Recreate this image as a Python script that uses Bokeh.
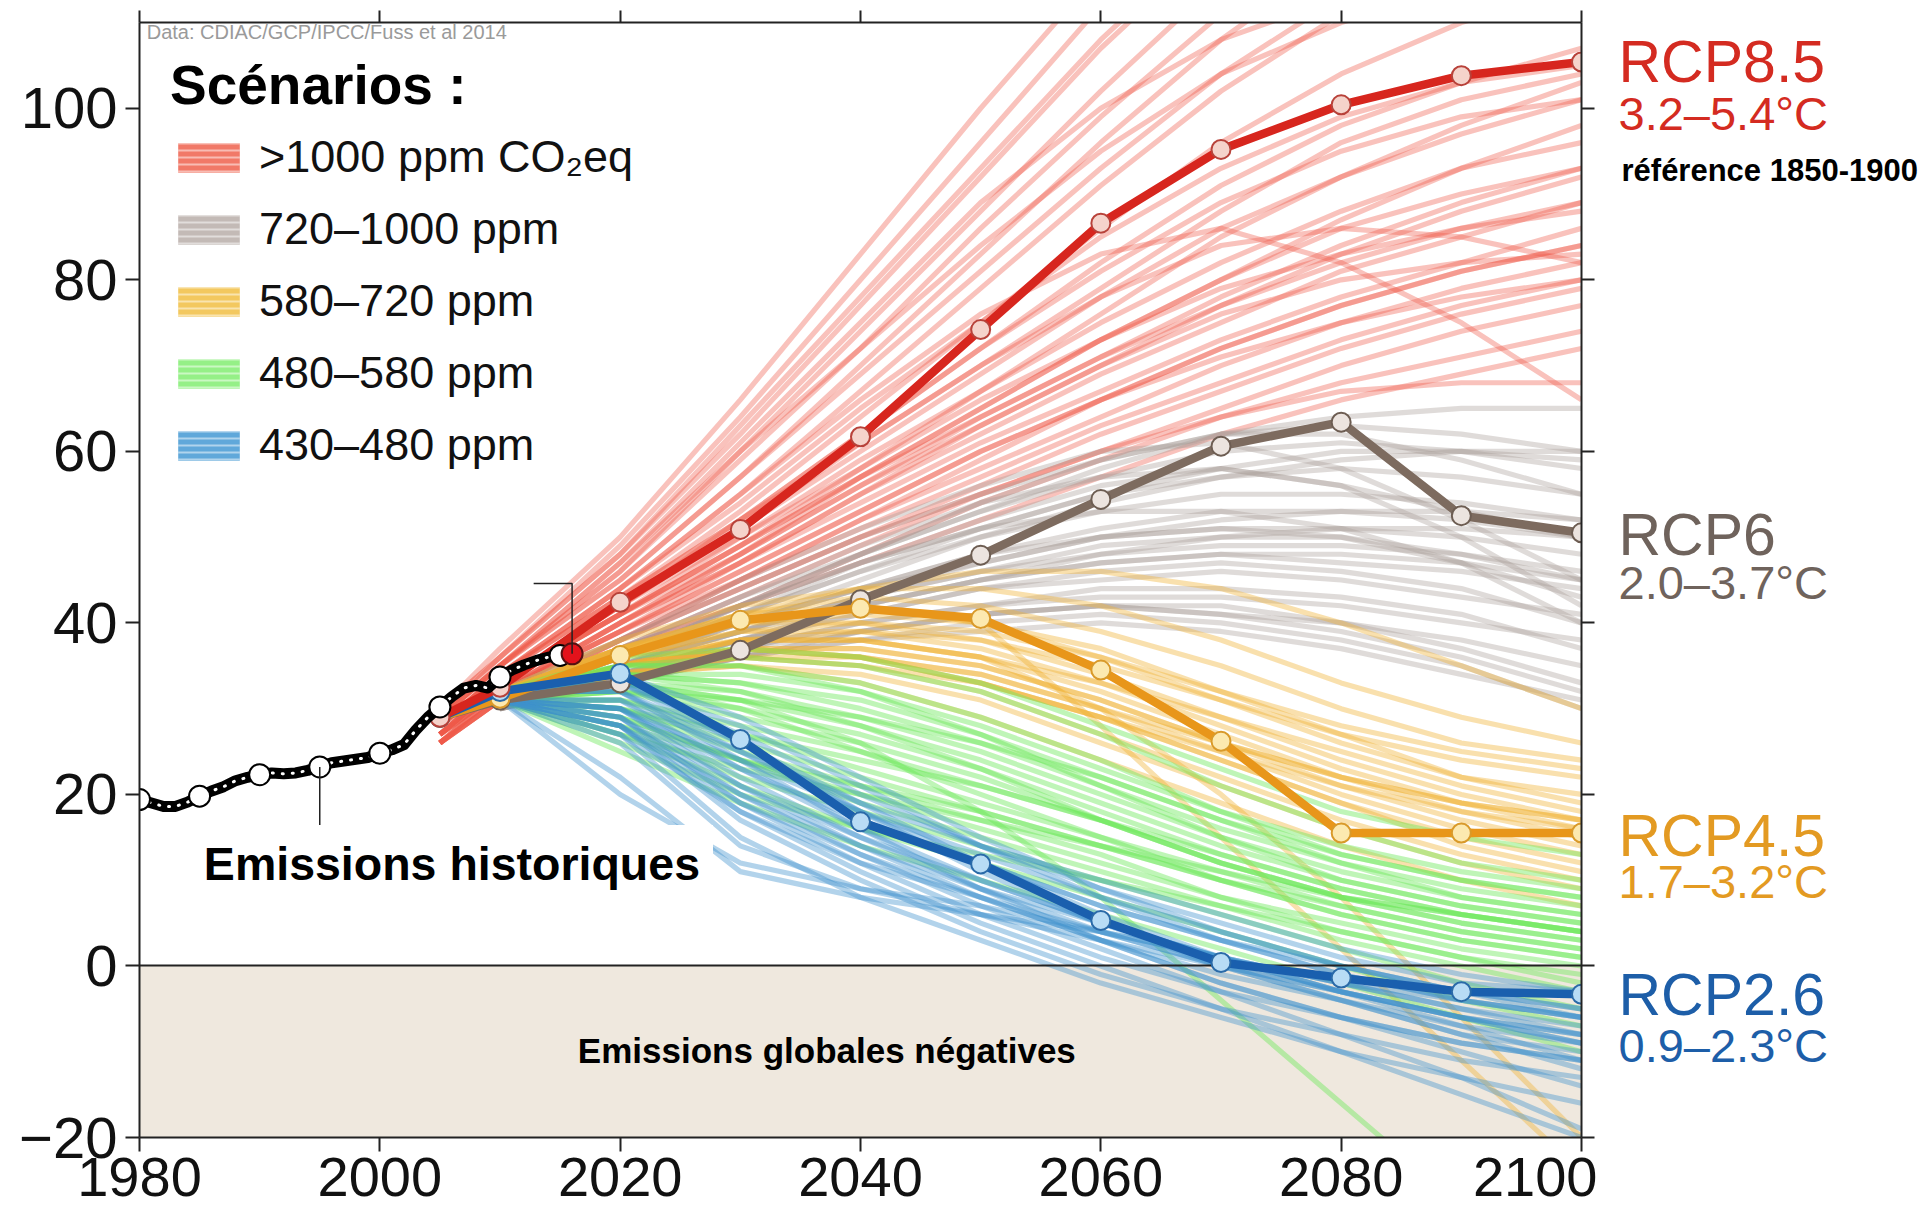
from bokeh.plotting import figure
from bokeh.layouts import row
from bokeh.models import (FixedTicker, LinearAxis, Label, Legend, LegendItem,
                          BoxAnnotation, CustomJSTickFormatter, Range1d)
from bokeh.embed import file_html
from bokeh.resources import INLINE

FONT = "Liberation Sans"
NAN = float("nan")

# ---------------- data ----------------
x_ticks = [1980, 2000, 2020, 2040, 2060, 2080, 2100]
y_ticks = [-20, 0, 20, 40, 60, 80, 100]
y_tick_labels = {-20: "\u221220", 0: "0", 20: "20", 40: "40", 60: "60", 80: "80", 100: "100"}

hist_years = list(range(1980, 2017))
hist_values = [19.4, 19.0, 18.6, 18.6, 19.1, 19.8, 20.4, 20.9, 21.6, 22.0,
               22.3, 22.5, 22.4, 22.5, 22.8, 23.2, 23.7, 23.9, 24.1, 24.3,
               24.8, 25.2, 25.8, 27.5, 29.0, 30.2, 31.4, 32.4, 32.7, 32.4,
               33.7, 34.5, 35.1, 35.6, 36.0, 36.2, 36.4]
hist_marker_years = [1980, 1985, 1990, 1995, 2000, 2005, 2010, 2015]
latest_year = 2016

rcp_years = [2005, 2010, 2020, 2030, 2040, 2050, 2060, 2070, 2080, 2090, 2100]
rcp85 = [29.0, 32.5, 42.4, 50.9, 61.7, 74.2, 86.6, 95.2, 100.4, 103.8, 105.4]
rcp6 = [29.0, 31.0, 33.0, 36.8, 42.7, 47.9, 54.4, 60.6, 63.4, 52.5, 50.5]
rcp45 = [29.0, 31.2, 36.2, 40.3, 41.7, 40.5, 34.5, 26.2, 15.5, 15.5, 15.5]
rcp26 = [29.0, 32.0, 34.1, 26.4, 16.8, 11.9, 5.3, 0.4, -1.4, -3.0, -3.3]

rcp_names = ["RCP8.5", "RCP6", "RCP4.5", "RCP2.6"]
rcp_ranges = ["3.2\u20135.4\u00b0C", "2.0\u20133.7\u00b0C", "1.7\u20133.2\u00b0C", "0.9\u20132.3\u00b0C"]
rcp_name_y = [105.4, 50.3, 15.1, -3.4]
rcp_range_y = [99.4, 44.7, 9.9, -9.3]
reference_note = "r\u00e9f\u00e9rence 1850-1900"
reference_note_y = 92.8

red_fan_years = [2005, 2010, 2020, 2030, 2040, 2050, 2060, 2070, 2080, 2090, 2100]
red_fan = [
    [30, 36, 48, 62, 77, 92, 107, 120, 130, 138, 145],
    [29, 35, 46, 60, 74, 88, 102, 115, 125, 132, 138],
    [29, 35, 45, 57, 70, 83, 96, 108, 118, 125, 130],
    [28, 34, 44, 55, 67, 79, 91, 102, 111, 118, 123],
    [28, 34, 43, 53, 64, 75, 86, 96, 104, 110, 114],
    [28, 34, 43, 52, 62, 72, 82, 91, 98, 103, 107],
    [27, 33, 42, 51, 60, 69, 78, 86, 92, 97, 101],
    [28, 33, 42, 50, 59, 67, 75, 82, 88, 93, 96],
    [27, 33, 41, 49, 57, 65, 73, 80, 86, 90, 93],
    [27, 33, 41, 48, 56, 63, 70, 77, 83, 88, 92],
    [27, 32, 40, 47, 55, 62, 69, 75, 81, 85, 89],
    [26, 32, 40, 47, 54, 61, 67, 73, 78, 82, 86],
    [27, 32, 39, 46, 53, 60, 66, 72, 77, 81, 84],
    [26, 32, 39, 45, 52, 58, 64, 70, 75, 79, 82],
    [26, 31, 38, 45, 51, 57, 63, 68, 73, 77, 80],
    [26, 31, 38, 44, 50, 56, 62, 67, 72, 76, 79],
    [26, 31, 37, 43, 49, 55, 60, 65, 70, 74, 77],
    [27, 32, 39, 47, 55, 63, 70, 76, 80, 82, 83],
    [28, 33, 42, 51, 61, 70, 78, 84, 86, 85, 82],
    [28, 34, 44, 55, 66, 76, 83, 86, 82, 75, 66],
    [27, 33, 41, 50, 58, 66, 73, 79, 83, 86, 88],
    [27, 32, 40, 48, 56, 64, 71, 78, 84, 89, 93],
    [26, 31, 37, 42, 47, 52, 57, 62, 66, 69, 72],
    [26, 31, 38, 44, 50, 55, 60, 64, 67, 68, 68],
    [29, 35, 47, 61, 75, 89, 100, 108, 113, 116, 118],
    [30, 36, 49, 64, 80, 96, 112, 125, 135, 142, 147],
    [28, 34, 44, 54, 65, 75, 85, 93, 99, 103, 105],
    [27, 33, 41, 49, 58, 67, 76, 85, 92, 98, 103],
    [26, 32, 39, 46, 53, 60, 66, 71, 75, 78, 80],
    [27, 32, 40, 48, 57, 65, 73, 80, 87, 93, 98],
    [26, 31, 37, 42, 48, 54, 59, 64, 68, 71, 74],
    [28, 34, 43, 52, 61, 70, 79, 88, 96, 101, 104],
    [30, 37, 50, 66, 83, 100, 116, 130, 142, 150, 156],
    [29, 36, 48, 63, 78, 93, 108, 121, 132, 140, 146],
    [29, 35, 46, 59, 72, 86, 99, 111, 121, 129, 135],
    [28, 35, 45, 57, 69, 81, 93, 104, 113, 120, 126],
    [29, 35, 47, 60, 72, 84, 95, 104, 110, 114, 116],
    [27, 33, 42, 52, 62, 72, 81, 89, 95, 99, 101],
    [27, 33, 41, 49, 57, 64, 71, 77, 82, 86, 89],
    [26, 32, 38, 45, 52, 59, 66, 72, 77, 81, 84],
]

fan_years = [2010, 2020, 2030, 2040, 2050, 2060, 2070, 2080, 2090, 2100]
grey_fan = [
    [32, 38, 44, 50, 55, 59, 62, 63, 62, 60],
    [32, 37, 43, 48, 53, 57, 60, 61, 60, 58],
    [32, 37, 42, 47, 51, 55, 57, 58, 57, 55],
    [31, 36, 41, 46, 50, 53, 55, 55, 54, 52],
    [31, 36, 40, 44, 48, 51, 53, 53, 52, 50],
    [31, 35, 40, 44, 47, 50, 51, 51, 50, 48],
    [31, 35, 39, 43, 46, 48, 49, 49, 48, 46],
    [31, 35, 39, 42, 45, 47, 48, 47, 46, 44],
    [31, 34, 38, 41, 44, 45, 46, 45, 43, 41],
    [30, 34, 37, 40, 42, 43, 43, 42, 40, 38],
    [30, 34, 37, 39, 41, 42, 41, 40, 38, 35],
    [30, 33, 36, 38, 39, 40, 39, 37, 34, 31],
    [31, 36, 41, 47, 52, 56, 58, 56, 50, 42],
    [32, 38, 45, 51, 56, 60, 61, 58, 52, 45],
    [31, 35, 40, 45, 50, 54, 57, 59, 60, 60],
    [31, 36, 42, 48, 53, 58, 62, 64, 65, 65],
    [30, 34, 38, 42, 45, 48, 50, 51, 51, 50],
    [30, 33, 36, 39, 41, 42, 42, 40, 37, 33],
    [31, 35, 40, 44, 48, 50, 51, 50, 47, 43],
    [30, 34, 38, 41, 44, 46, 47, 46, 44, 40],
    [31, 36, 42, 47, 51, 53, 53, 51, 47, 40],
    [30, 34, 38, 42, 45, 47, 48, 48, 47, 45],
    [31, 35, 39, 43, 47, 50, 52, 53, 53, 52],
    [30, 33, 36, 38, 40, 41, 40, 38, 35, 30],
    [32, 37, 43, 49, 54, 57, 58, 56, 53, 50],
    [31, 36, 41, 46, 51, 55, 58, 60, 60, 59],
    [31, 35, 39, 43, 46, 49, 50, 50, 48, 45],
    [30, 34, 37, 40, 42, 44, 44, 43, 41, 37],
    [31, 36, 42, 48, 54, 59, 62, 62, 59, 55],
    [30, 33, 36, 39, 41, 42, 41, 39, 36, 32],
]
orange_fan = [
    [32, 37, 40, 41, 40, 37, 32, 27, 22, 20],
    [32, 37, 40, 40, 38, 34, 29, 24, 20, 17],
    [32, 36, 39, 39, 37, 33, 28, 23, 19, 16],
    [31, 36, 38, 38, 36, 32, 27, 22, 18, 15],
    [31, 35, 37, 37, 35, 31, 26, 21, 17, 14],
    [31, 35, 37, 36, 33, 29, 24, 19, 15, 12],
    [31, 35, 36, 35, 32, 27, 22, 17, 13, 10],
    [31, 34, 35, 34, 31, 26, 21, 16, 12, 9],
    [31, 34, 35, 33, 29, 24, 19, 14, 10, 7],
    [32, 37, 41, 43, 42, 39, 35, 30, 26, 24],
    [32, 38, 42, 44, 44, 42, 38, 33, 29, 26],
    [31, 35, 38, 39, 38, 35, 31, 27, 24, 22],
    [31, 34, 36, 36, 34, 30, 25, 20, 16, 13],
    [32, 36, 39, 40, 39, 36, 32, 28, 25, 23],
    [31, 35, 38, 38, 36, 33, 29, 25, 21, 18],
    [32, 37, 41, 42, 40, 36, 31, 26, 22, 19],
    [31, 34, 36, 35, 33, 29, 24, 19, 14, 11],
    [32, 36, 40, 42, 40, 28, 15, 2, -11, -24],
    [31, 35, 38, 38, 36, 30, 20, 8, -6, -20],
    [31, 35, 37, 36, 33, 29, 25, 21, 18, 16],
    [32, 37, 41, 44, 46, 46, 44, 40, 35, 30],
    [31, 34, 37, 37, 35, 31, 26, 22, 19, 17],
    [31, 35, 37, 36, 34, 30, 26, 22, 19, 17],
]
green_fan = [
    [32, 35, 35, 33, 29, 24, 18, 13, 10, 8],
    [32, 34, 33, 30, 26, 21, 16, 12, 9, 7],
    [32, 33, 31, 28, 24, 19, 14, 10, 7, 5],
    [31, 32, 29, 26, 22, 17, 12, 8, 5, 3],
    [31, 31, 27, 23, 19, 15, 10, 6, 3, 1],
    [31, 30, 25, 21, 17, 13, 8, 4, 1, -1],
    [31, 29, 24, 19, 15, 11, 7, 3, 0, -3],
    [32, 35, 36, 35, 32, 27, 21, 16, 12, 10],
    [32, 36, 37, 36, 33, 28, 23, 18, 15, 13],
    [31, 33, 32, 29, 25, 20, 15, 11, 8, 6],
    [31, 28, 22, 18, 14, 10, 6, 2, -2, -5],
    [31, 27, 21, 16, 12, 8, 4, 0, -4, -7],
    [31, 32, 30, 27, 23, 18, 13, 9, 6, 4],
    [32, 34, 34, 32, 28, 23, 18, 14, 11, 9],
    [31, 30, 26, 22, 18, 14, 10, 7, 4, 2],
    [31, 33, 31, 26, 18, 8, -4, -16, -28, -40],
    [31, 26, 20, 16, 13, 10, 7, 4, 1, -2],
    [32, 35, 35, 32, 27, 21, 15, 10, 7, 5],
    [31, 31, 28, 25, 21, 17, 12, 8, 5, 3],
    [31, 29, 24, 20, 16, 12, 8, 5, 2, 0],
    [31, 27, 23, 20, 17, 14, 11, 8, 6, 4],
    [32, 33, 30, 25, 20, 15, 11, 7, 4, 2],
    [31, 25, 19, 14, 10, 6, 2, -2, -6, -10],
    [32, 34, 32, 28, 23, 17, 12, 8, 6, 4],
    [31, 30, 27, 24, 21, 17, 13, 9, 6, 4],
    [32, 34, 33, 31, 27, 22, 17, 13, 10, 8],
    [31, 28, 24, 21, 18, 14, 10, 6, 3, 1],
    [31, 32, 31, 29, 26, 22, 17, 12, 8, 6],
]
blue_fan = [
    [32, 33, 27, 20, 14, 9, 5, 1, -2, -3],
    [32, 32, 25, 18, 12, 7, 3, 0, -3, -5],
    [31, 31, 23, 16, 10, 5, 1, -2, -5, -7],
    [31, 30, 21, 14, 8, 3, -1, -4, -7, -9],
    [31, 29, 19, 12, 6, 1, -3, -6, -9, -11],
    [31, 28, 17, 10, 4, -1, -5, -8, -11, -13],
    [31, 27, 15, 8, 3, -2, -6, -10, -13, -16],
    [32, 34, 29, 22, 15, 9, 4, 0, -3, -5],
    [32, 33, 28, 21, 14, 8, 3, -1, -4, -6],
    [31, 30, 22, 15, 9, 4, 0, -3, -6, -8],
    [31, 26, 14, 9, 6, 3, 0, -3, -6, -9],
    [31, 22, 11, 8, 6, 4, 1, -2, -5, -8],
    [31, 20, 12, 9, 7, 4, 1, -3, -7, -11],
    [31, 29, 20, 13, 7, 2, -3, -8, -13, -19],
    [31, 28, 18, 11, 5, 0, -5, -10, -15, -20],
    [32, 32, 26, 19, 12, 6, 1, -3, -6, -8],
    [31, 30, 23, 17, 12, 7, 3, -1, -4, -6],
    [31, 31, 25, 19, 14, 10, 6, 2, -1, -3],
    [31, 29, 21, 15, 10, 5, 1, -3, -6, -9],
    [31, 27, 18, 12, 8, 4, 0, -4, -8, -12],
    [32, 32, 24, 16, 9, 3, -2, -6, -9, -11],
    [31, 28, 20, 14, 9, 5, 1, -2, -4, -6],
    [31, 30, 24, 18, 13, 8, 4, 0, -3, -6],
    [31, 28, 19, 13, 8, 3, -2, -6, -10, -14],
    [32, 33, 26, 18, 11, 5, 0, -4, -8, -10],
]

legend_labels = [">1000 ppm CO\u2082eq", "720\u20131000 ppm", "580\u2013720 ppm",
                 "480\u2013580 ppm", "430\u2013480 ppm"]

hist_leader_x = [1995, 1995]
hist_leader_y = [23.2, 15.0]
latest_leader_x = [2016, 2016, 2012.8]
latest_leader_y = [36.4, 44.6, 44.6]

hist_label = "Emissions historiques"
hist_label_pos = (2006.0, 11.9)
negative_label = "Emissions globales n\u00e9gatives"
negative_label_pos = (2037.2, -9.9)
source_text = "Data: CDIAC/GCP/IPCC/Fuss et al 2014"
source_pos = (1980.6, 108.9)

# ---------------- styling ----------------
fan_colors = ["#ee5a48", "#a99e98", "#f0b232", "#6ee85c", "#3f90cc"]
fan_alphas = [0.37, 0.37, 0.40, 0.44, 0.40]
swatch_colors = ["#ef6a58", "#bdb3ae", "#f2c24e", "#8aee7a", "#4f9fd6"]
rcp_line_colors = ["#d7261e", "#7d6b5f", "#e8961a", "#1a5fae"]
rcp_fill_colors = ["#f5d3cb", "#ece4df", "#fce9b0", "#b8dcf5"]
rcp_edge_colors = ["#b8423a", "#6d5d52", "#d99a2a", "#2a6aa8"]
rcp_text_colors = ["#d42b21", "#6f635c", "#e39a22", "#1d5ea8"]

W, H = 1924, 1221
FRAME_L, FRAME_R, FRAME_T, FRAME_B = 139, 1581, 22, 1137
MAIN_W = FRAME_R + 16
SIDE_W = W - MAIN_W

p = figure(width=MAIN_W, height=H,
           x_range=Range1d(1980, 2100), y_range=Range1d(-20, 110),
           output_backend="svg", toolbar_location=None,
           min_border_left=FRAME_L, min_border_right=MAIN_W - FRAME_R,
           min_border_top=FRAME_T, min_border_bottom=H - FRAME_B,
           outline_line_color=None, background_fill_color="white",
           border_fill_color="white")
p.grid.visible = False


def style_axis(ax, ticks, font_size, tick_out, standoff):
    ax.ticker = FixedTicker(ticks=ticks)
    ax.axis_line_color = "#222222"
    ax.axis_line_width = 2
    ax.major_tick_line_color = "#222222"
    ax.major_tick_line_width = 2
    ax.major_tick_out = tick_out
    ax.major_tick_in = 0
    ax.minor_tick_out = 0
    ax.minor_tick_in = 0
    ax.major_label_text_font = FONT
    ax.major_label_text_font_size = font_size
    ax.major_label_text_color = "#111111"
    ax.major_label_standoff = standoff


style_axis(p.xaxis[0], x_ticks, "56px", 14, 6)
style_axis(p.yaxis[0], y_ticks, "58px", 14, 8)
p.yaxis[0].major_label_overrides = y_tick_labels

top_axis = LinearAxis(formatter=CustomJSTickFormatter(code="return ''"))
style_axis(top_axis, x_ticks, "1px", 12, 0)
p.add_layout(top_axis, "above")
right_axis = LinearAxis(formatter=CustomJSTickFormatter(code="return ''"))
style_axis(right_axis, y_ticks, "1px", 13, 0)
p.add_layout(right_axis, "right")

# negative emissions zone
p.add_layout(BoxAnnotation(top=0, fill_color="#efe8de", fill_alpha=1.0,
                           line_alpha=0, level="underlay"))

# scenario fans
fans = [(red_fan_years, red_fan), (fan_years, grey_fan), (fan_years, orange_fan),
        (fan_years, green_fan), (fan_years, blue_fan)]
for (yrs, lines), c, a in zip(fans, fan_colors, fan_alphas):
    p.multi_line(xs=[yrs] * len(lines), ys=lines, line_color=c, line_alpha=a,
                 line_width=5.2, line_join="round")

# zero line
p.hspan(y=[0], line_color="#222222", line_width=2)

# RCP pathways (drawn in this order: 6, 4.5, 2.6, 8.5)
rcp_series = [rcp85, rcp6, rcp45, rcp26]
for i in [1, 2, 3, 0]:
    p.line(rcp_years, rcp_series[i], line_color=rcp_line_colors[i], line_width=8.5,
           line_join="round")
    p.scatter(rcp_years, rcp_series[i], size=19, fill_color=rcp_fill_colors[i],
              line_color=rcp_edge_colors[i], line_width=2)

# historical emissions
p.line(hist_years, hist_values, line_color="black", line_width=11, line_join="round")
p.line(hist_years, hist_values, line_color="white", line_width=3,
       line_dash="1 9", line_cap="round")
marker_vals = [hist_values[hist_years.index(y)] for y in hist_marker_years]
p.scatter(hist_marker_years, marker_vals, size=21, fill_color="white",
          line_color="black", line_width=2)
latest_val = hist_values[hist_years.index(latest_year)]
p.scatter([latest_year], [latest_val], size=21, fill_color="#e3121b",
          line_color="#551111", line_width=2)

# leader lines
p.line(hist_leader_x, hist_leader_y, line_color="#222222", line_width=1.5)
p.line(latest_leader_x, latest_leader_y, line_color="#222222", line_width=1.5)

# legend (swatch-only renderers, no visible data)
items = []
for lab, c in zip(legend_labels, swatch_colors):
    r = p.quad(left=[NAN], right=[NAN], top=[NAN], bottom=[NAN], fill_color=c,
               fill_alpha=0.9, line_color=None, hatch_pattern="horizontal_line",
               hatch_color="white", hatch_alpha=0.5, hatch_scale=7, hatch_weight=2)
    items.append(LegendItem(label=lab, renderers=[r]))
legend = Legend(items=items, location="top_left", margin=11, padding=20,
                title="Sc\u00e9narios :", title_text_font=FONT,
                title_text_font_size="55px", title_text_font_style="bold",
                title_text_color="black", title_standoff=14,
                label_text_font=FONT, label_text_font_size="45px",
                label_text_color="#111111", glyph_width=77, glyph_height=37,
                label_standoff=12, spacing=20, label_height=37,
                background_fill_alpha=0, border_line_alpha=0)
p.add_layout(legend)

# text annotations inside the chart
p.add_layout(Label(x=hist_label_pos[0], y=hist_label_pos[1], text=hist_label,
                   text_align="center", text_baseline="middle",
                   text_font=FONT, text_font_size="46.5px", text_font_style="bold",
                   text_color="black", background_fill_color="white",
                   background_fill_alpha=1.0, padding=13))
p.add_layout(Label(x=negative_label_pos[0], y=negative_label_pos[1], text=negative_label,
                   text_align="center", text_baseline="middle",
                   text_font=FONT, text_font_size="35px", text_font_style="bold",
                   text_color="black"))
p.add_layout(Label(x=source_pos[0], y=source_pos[1], text=source_text,
                   text_align="left", text_baseline="middle",
                   text_font=FONT, text_font_size="20px", text_color="#9a9a9a"))

# side panel with the scenario names (shares the y scale of the chart)
side = figure(width=SIDE_W, height=H, x_range=Range1d(0, SIDE_W), y_range=p.y_range,
              output_backend="svg", toolbar_location=None,
              x_axis_location=None, y_axis_location=None,
              min_border_left=0, min_border_right=0,
              min_border_top=FRAME_T, min_border_bottom=H - FRAME_B,
              outline_line_color=None, background_fill_color="white",
              border_fill_color="white")
side.grid.visible = False
label_left = 1618 - MAIN_W
for name, rng, ny, ry, c in zip(rcp_names, rcp_ranges, rcp_name_y, rcp_range_y, rcp_text_colors):
    side.add_layout(Label(x=label_left, y=ny, text=name, text_align="left",
                          text_baseline="middle", text_font=FONT,
                          text_font_size="59px", text_color=c))
    side.add_layout(Label(x=label_left, y=ry, text=rng, text_align="left",
                          text_baseline="middle", text_font=FONT,
                          text_font_size="47px", text_color=c))
side.add_layout(Label(x=label_left + 3, y=reference_note_y, text=reference_note,
                      text_align="left", text_baseline="middle", text_font=FONT,
                      text_font_size="31px", text_font_style="bold", text_color="black"))

layout = row(p, side, spacing=0)
open("out.html", "w").write(file_html(layout, INLINE))
